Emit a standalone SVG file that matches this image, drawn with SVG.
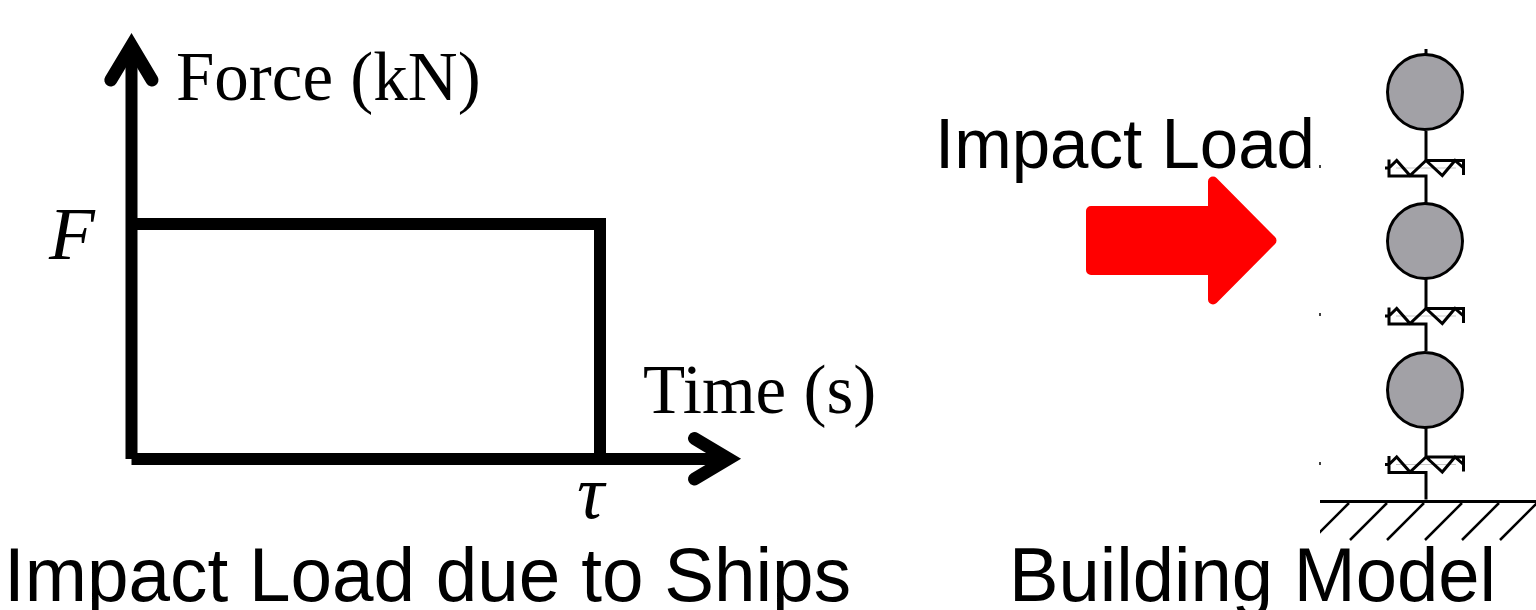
<svg xmlns="http://www.w3.org/2000/svg" width="1536" height="610" viewBox="0 0 1536 610">
<style>
.axis{fill:none;stroke:#000;stroke-width:12;stroke-linejoin:miter;stroke-miterlimit:10}
.head{fill:none;stroke:#000;stroke-width:13;stroke-linecap:round;stroke-linejoin:miter;stroke-miterlimit:10}
.serif{font-family:"Liberation Serif","Times New Roman",serif;font-size:69px;fill:#000}
.ital{font-style:italic}
.sans{font-family:"Liberation Sans",Arial,sans-serif;fill:#000}
.mass{fill:#a2a1a6;stroke:#000;stroke-width:3}
.ln{fill:none;stroke:#000;stroke-width:3}
.pale{fill:none;stroke:#c8c8c8;stroke-width:1}
.hatch{fill:none;stroke:#000;stroke-width:2.500}
</style>
<defs>
<g id="spring">
<path class="pale" d="M1396 168H1456"/>
<path class="ln" d="M1385 168H1389M1389 159.500V176H1426V203M1389 168L1396.700 160.500L1410 175.500L1426 160.500L1442.300 175.500L1455 160.500L1463.500 168M1426 160.500H1465M1463.500 159.500V175"/>
</g>
<clipPath id="gclip"><rect x="1320" y="500" width="216" height="50"/></clipPath>
</defs>
<g id="connectors">
<path class="axis" d="M131.500 46V459M131.500 224H600V459M131.500 459H729"/>
<path class="head" d="M110.800 80L131.500 45.600L152 80"/>
<path class="head" d="M694.500 438.500L728.400 458.800L694.500 479"/>
<path class="ln" d="M1426 49V54M1426 131V160M1426 279V308M1426 427V456.500"/>
<path d="M1320 168v-3M1320 316v-3M1320 465v-3" stroke="#000" stroke-width="1.500" fill="none"/>
</g>
<g id="force-label"><text class="serif" x="176" y="100">Force (kN)</text></g>
<g id="time-label"><text class="serif" x="643" y="413">Time (s)</text></g>
<g id="f-label"><text class="serif ital" x="49" y="258.500" style="font-size:75px">F</text></g>
<g id="tau-label"><text class="serif ital" x="577" y="518" style="font-size:76px">τ</text></g>
<g id="caption-left"><text class="sans" x="4" y="600.500" font-size="76" textLength="847" lengthAdjust="spacingAndGlyphs">Impact Load due to Ships</text></g>
<g id="caption-right"><text class="sans" x="1009" y="600.500" font-size="76" textLength="487" lengthAdjust="spacingAndGlyphs">Building Model</text></g>
<g id="impact-label"><text class="sans" x="935" y="168" font-size="70" textLength="380" lengthAdjust="spacingAndGlyphs">Impact Load</text></g>
<g id="impact-arrow"><path d="M1091 211H1213V181.500L1271.500 240.500L1213 299.500V270H1091Z" fill="#f00" stroke="#f00" stroke-width="10" stroke-linejoin="round"/></g>
<g id="spring-1"><use href="#spring"/></g>
<g id="spring-2"><use href="#spring" y="148"/></g>
<g id="spring-3"><use href="#spring" y="296.500"/></g>
<g id="mass-1"><circle class="mass" cx="1425" cy="92" r="37.500"/></g>
<g id="mass-2"><circle class="mass" cx="1425" cy="241" r="37.500"/></g>
<g id="mass-3"><circle class="mass" cx="1425" cy="390" r="37.500"/></g>
<g id="ground">
<path class="ln" d="M1320 501.500H1536"/>
<path class="hatch" clip-path="url(#gclip)" d="M1349 503L1312 540M1387 503L1350 540M1424 503L1387 540M1462 503L1425 540M1499 503L1462 540M1537 503L1500 540"/>
</g>
</svg>
